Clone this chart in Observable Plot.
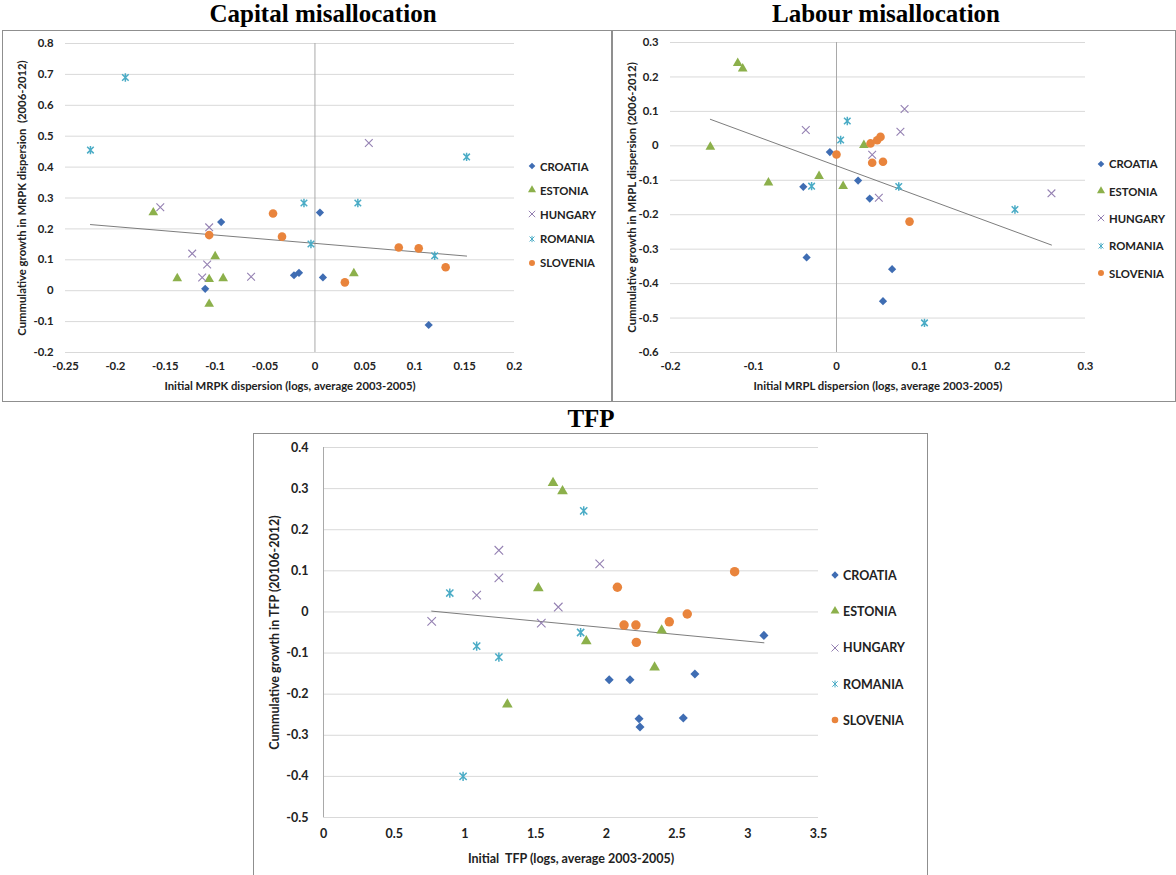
<!DOCTYPE html>
<html>
<head>
<meta charset="utf-8">
<script src="https://cdn.jsdelivr.net/npm/d3@7"></script>
<script src="https://cdn.jsdelivr.net/npm/@observablehq/plot@0.6"></script>
<style>
  body { margin: 0; background: #fff; font-family: Lato, "Open Sans", sans-serif; }
  #page { position: relative; width: 1176px; height: 875px; overflow: hidden; }
  .box { position: absolute; border: 1.5px solid #8f8f8f; box-sizing: border-box; }
  .chart { position: absolute; }
  .title { position: absolute; transform: translateX(-50%); white-space: nowrap;
           font-family: "Liberation Serif", "Times New Roman", serif; font-weight: bold;
           font-size: 25px; line-height: 28px; color: #000; }
  .legend { position: absolute; font-weight: bold; color: #222; }
  .legend div { display: flex; align-items: center; white-space: nowrap; }
  .legend svg { margin-right: 3px; overflow: visible; }
</style>
</head>
<body>
<div id="page"></div>
<script>
// series order
const countries = ["CROATIA", "ESTONIA", "HUNGARY", "ROMANIA", "SLOVENIA"]

// capital misallocation: [initial MRPK dispersion, cumulative growth]
const capCroatia = [[-0.094, 0.222], [-0.11, 0.006], [-0.021, 0.05], [-0.016, 0.058], [0.005, 0.253], [0.008, 0.043], [0.114, -0.111]]
const capEstonia = [[-0.162, 0.253], [-0.138, 0.04], [-0.106, 0.037], [-0.092, 0.04], [-0.1, 0.111], [-0.106, -0.043], [0.039, 0.056]]
const capHungary = [[-0.155, 0.27], [-0.106, 0.205], [-0.123, 0.12], [-0.108, 0.085], [-0.113, 0.043], [-0.064, 0.045], [0.054, 0.478]]
const capRomania = [[-0.225, 0.455], [-0.19, 0.69], [-0.011, 0.284], [-0.004, 0.151], [0.043, 0.284], [0.152, 0.433], [0.12, 0.113]]
const capSlovenia = [[-0.042, 0.25], [-0.033, 0.175], [-0.106, 0.18], [0.084, 0.14], [0.104, 0.137], [0.131, 0.076], [0.03, 0.027]]
const capTrend = [[-0.225, 0.214], [0.152, 0.112]]

// labour misallocation: [initial MRPL dispersion, cumulative growth]
const labCroatia = [[-0.04, -0.119], [-0.008, -0.018], [0.026, -0.101], [0.04, -0.153], [-0.036, -0.324], [0.067, -0.358], [0.056, -0.451]]
const labEstonia = [[-0.119, 0.24], [-0.113, 0.224], [-0.152, -0.003], [-0.082, -0.107], [-0.021, -0.088], [0.008, -0.117], [0.033, 0.002]]
const labHungary = [[-0.037, 0.046], [0.043, -0.026], [0.051, -0.151], [0.082, 0.107], [0.077, 0.041], [0.259, -0.138]]
const labRomania = [[-0.03, -0.117], [0.005, 0.017], [0.013, 0.072], [0.075, -0.118], [0.215, -0.185], [0.106, -0.514]]
const labSlovenia = [[0, -0.025], [0.041, 0.007], [0.049, 0.016], [0.053, 0.026], [0.043, -0.049], [0.056, -0.046], [0.088, -0.22]]
const labTrend = [[-0.152, 0.077], [0.259, -0.288]]

// TFP: [initial TFP, cumulative growth]
const tfpCroatia = [[2.02, -0.165], [2.167, -0.165], [2.626, -0.151], [2.231, -0.26], [2.238, -0.28], [2.544, -0.258], [3.114, -0.057]]
const tfpEstonia = [[1.623, 0.314], [1.69, 0.294], [1.519, 0.058], [1.3, -0.225], [1.858, -0.071], [2.391, -0.045], [2.341, -0.135]]
const tfpHungary = [[0.765, -0.023], [1.083, 0.041], [1.24, 0.15], [1.24, 0.083], [1.54, -0.027], [1.66, 0.012], [1.953, 0.117]]
const tfpRomania = [[0.893, 0.046], [1.083, -0.083], [1.24, -0.11], [0.987, -0.4], [1.84, 0.246], [1.818, -0.05]]
const tfpSlovenia = [[2.078, 0.06], [2.125, -0.032], [2.209, -0.032], [2.212, -0.074], [2.445, -0.024], [2.572, -0.005], [2.907, 0.098]]
const tfpTrend = [[0.765, 0.002], [3.114, -0.075]]

// ticks
const capXTicks = [-0.25, -0.2, -0.15, -0.1, -0.05, 0, 0.05, 0.1, 0.15, 0.2]
const capYTicks = [-0.2, -0.1, 0, 0.1, 0.2, 0.3, 0.4, 0.5, 0.6, 0.7, 0.8]
const labXTicks = [-0.2, -0.1, 0, 0.1, 0.2, 0.3]
const labYTicks = [-0.6, -0.5, -0.4, -0.3, -0.2, -0.1, 0, 0.1, 0.2, 0.3]
const tfpXTicks = [0, 0.5, 1, 1.5, 2, 2.5, 3, 3.5]
const tfpYTicks = [-0.5, -0.4, -0.3, -0.2, -0.1, 0, 0.1, 0.2, 0.3, 0.4]

// excel style star: an x with a vertical bar through it
const excelStar = {
  draw(ctx, size) {
    const r = Math.sqrt(size / Math.PI) * 1.05
    const u = r * 0.78
    ctx.moveTo(-u, -u); ctx.lineTo(u, u)
    ctx.moveTo(-u, u); ctx.lineTo(u, -u)
    ctx.moveTo(0, -r); ctx.lineTo(0, r)
  }
}

// look of each series
const colors = ["#3f6db3", "#8cb04b", "#9480b2", "#4bacc6", "#e9843c"]
const symbols = [d3.symbolDiamond2, d3.symbolTriangle, d3.symbolTimes, excelStar, d3.symbolCircle]
const filled = [true, true, false, false, true]
const radius = [3.7, 3.6, 3.6, 4, 4.3]

const fmt = d => String(Math.round(d * 100) / 100)
const page = document.getElementById('page')

function panel(o) {
  const box = document.createElement('div')
  box.className = 'box'
  Object.assign(box.style, {left: o.left + 'px', top: o.top + 'px', width: o.width + 'px', height: o.boxHeight + 'px'})
  page.appendChild(box)

  const all = o.series.flatMap((s, i) => s.map(([x, y]) => ({x, y, c: countries[i]})))
  const trend = o.trend.map(([x, y]) => ({x, y}))

  let chart = Plot.plot({
    width: o.width,
    height: o.height,
    marginLeft: o.ml,
    marginRight: o.mr,
    marginTop: o.mt,
    marginBottom: o.mb,
    style: {fontFamily: 'Lato, "Open Sans", sans-serif', fontWeight: 'bold', fontSize: o.font + 'px', color: '#222', background: 'transparent'},
    x: {domain: o.xDomain, labelArrow: 'none'},
    y: {domain: o.yDomain, labelArrow: 'none'},
    marks: [
      Plot.gridY(o.yTicks, {stroke: '#d9d9d9', strokeOpacity: 1, strokeWidth: 1}),
      Plot.ruleX([0], {stroke: '#a9a9a9', strokeWidth: 1}),
      Plot.line(trend, {x: 'x', y: 'y', stroke: '#6e6e6e', strokeWidth: 0.9}),
      ...countries.map((c, i) => Plot.dot(all.filter(d => d.c == c), {
        x: 'x',
        y: 'y',
        symbol: symbols[i],
        r: radius[i] * o.ms,
        fill: filled[i] ? colors[i] : 'none',
        stroke: filled[i] ? 'none' : colors[i],
        strokeWidth: i == 3 ? 1.5 : 1.1,
      })),
      Plot.axisX(o.xTicks, {tickSize: 0, tickPadding: o.xPad, tickFormat: fmt, label: o.xLabel,
        labelAnchor: 'center', labelOffset: o.xLabelOffset, labelArrow: 'none'}),
      Plot.axisY(o.yTicks, {tickSize: 0, tickPadding: o.yPad, tickFormat: fmt, label: o.yLabel,
        labelAnchor: 'center', labelOffset: o.yLabelOffset, labelArrow: 'none'}),
    ],
  })
  chart.classList.add('chart')
  Object.assign(chart.style, {left: o.left + 'px', top: o.top + 'px'})
  page.appendChild(chart)

  // legend
  const lg = document.createElement('div')
  lg.className = 'legend'
  Object.assign(lg.style, {left: o.legX + 'px', top: o.legY + 'px', fontSize: o.font + 'px'})
  countries.forEach((c, i) => {
    const row = document.createElement('div')
    row.style.height = o.legRow + 'px'
    const path = d3.symbol(symbols[i], o.legSize)()
    row.innerHTML = `<svg width="10" height="10" viewBox="-5 -5 10 10"><path d="${path}" fill="${filled[i] ? colors[i] : 'none'}" stroke="${filled[i] ? 'none' : colors[i]}" stroke-width="1"/></svg><span>${c}</span>`
    lg.appendChild(row)
  })
  page.appendChild(lg)

  const t = document.createElement('div')
  t.className = 'title'
  t.textContent = o.title
  Object.assign(t.style, {left: o.titleX + 'px', top: o.titleY + 'px'})
  page.appendChild(t)
}

panel({
  title: 'Capital misallocation', titleX: 323, titleY: 0,
  left: 2, top: 30, width: 610, height: 372, boxHeight: 372,
  ml: 63, mr: 98, mt: 13, mb: 50, font: 11.3, ms: 1,
  xDomain: [-0.25, 0.2], yDomain: [-0.2, 0.8],
  xTicks: capXTicks, yTicks: capYTicks, xPad: 9, yPad: 12,
  xLabel: 'Initial MRPK dispersion (logs, average 2003-2005)', xLabelOffset: 37,
  yLabel: 'Cummulative growth in MRPK dispersion  (2006-2012)', yLabelOffset: 48,
  series: [capCroatia, capEstonia, capHungary, capRomania, capSlovenia], trend: capTrend,
  legX: 527, legY: 154, legRow: 24.2, legSize: 28,
})

panel({
  title: 'Labour misallocation', titleX: 886, titleY: 0,
  left: 612, top: 30, width: 564, height: 372, boxHeight: 372,
  ml: 58, mr: 91, mt: 12, mb: 50, font: 11.3, ms: 1,
  xDomain: [-0.2, 0.3], yDomain: [-0.6, 0.3],
  xTicks: labXTicks, yTicks: labYTicks, xPad: 9, yPad: 12,
  xLabel: 'Initial MRPL dispersion (logs, average 2003-2005)', xLabelOffset: 37,
  yLabel: 'Cummulative growth in MRPL dispersion (2006-2012)', yLabelOffset: 43,
  series: [labCroatia, labEstonia, labHungary, labRomania, labSlovenia], trend: labTrend,
  legX: 1096, legY: 150, legRow: 27.4, legSize: 28,
})

panel({
  title: 'TFP', titleX: 591, titleY: 405,
  left: 253, top: 433, width: 675, height: 442, boxHeight: 460,
  ml: 70, mr: 110, mt: 14, mb: 58, font: 12.5, ms: 1.1,
  xDomain: [0, 3.5], yDomain: [-0.5, 0.4],
  xTicks: tfpXTicks, yTicks: tfpYTicks, xPad: 12, yPad: 15,
  xLabel: 'Initial  TFP (logs, average 2003-2005)', xLabelOffset: 45,
  yLabel: 'Cummulative growth in TFP (20106-2012)', yLabelOffset: 53,
  series: [tfpCroatia, tfpEstonia, tfpHungary, tfpRomania, tfpSlovenia], trend: tfpTrend,
  legX: 830, legY: 557, legRow: 36.3, legSize: 34,
})
</script>
</body>
</html>
